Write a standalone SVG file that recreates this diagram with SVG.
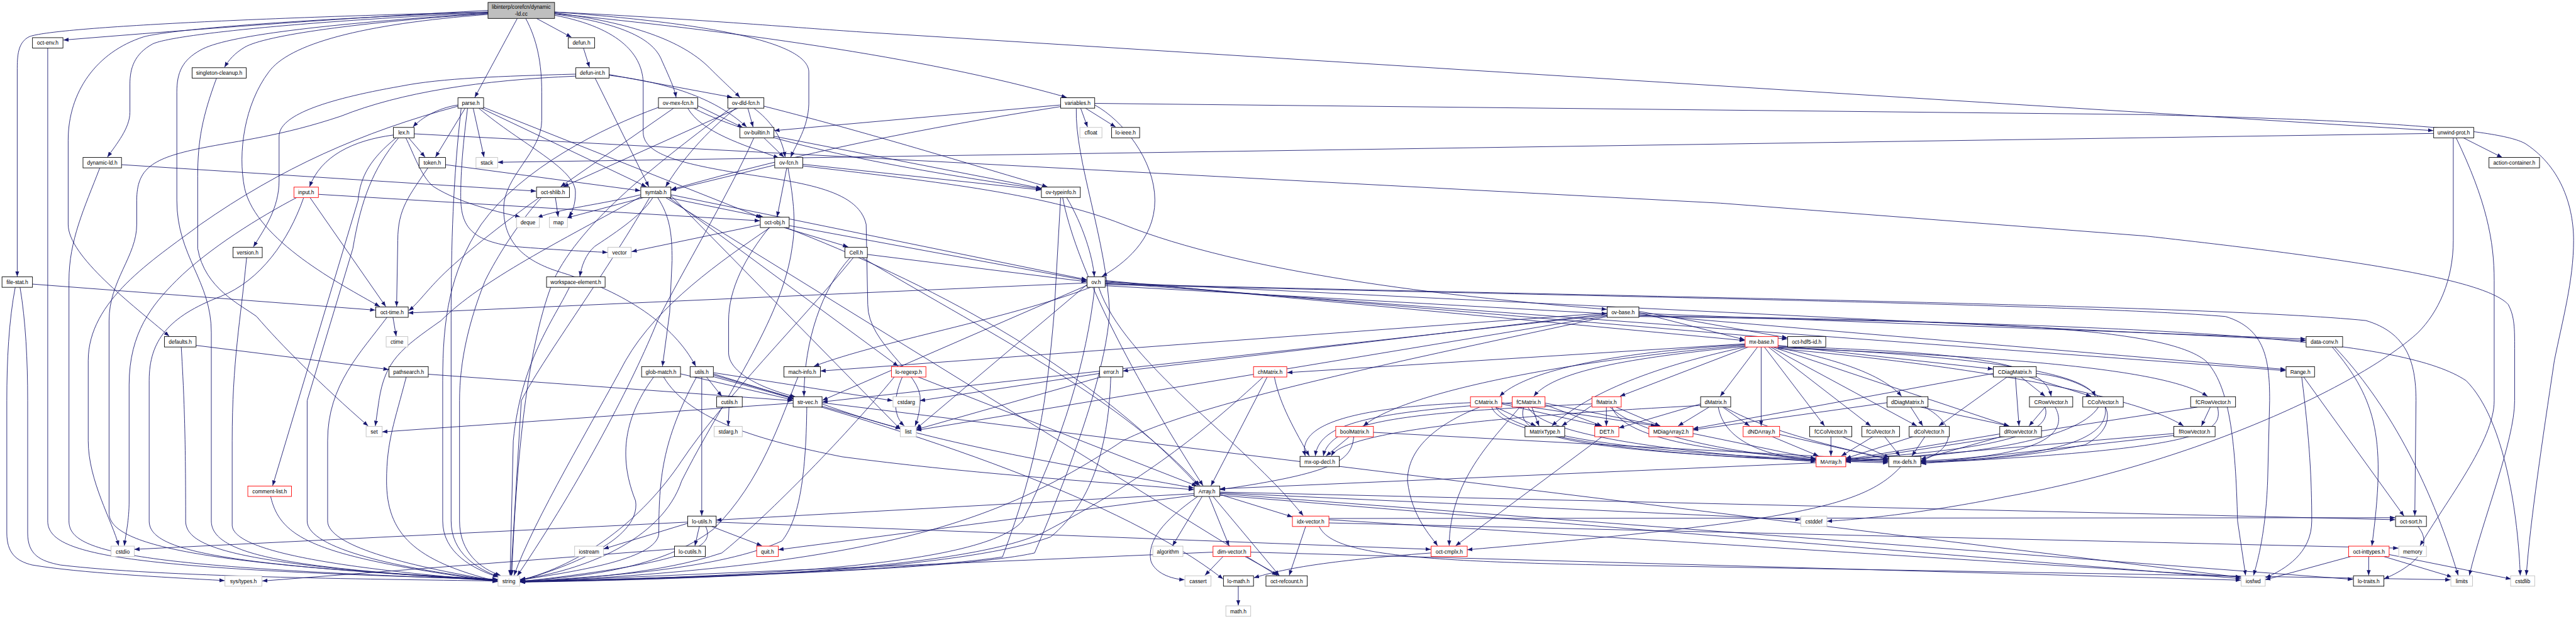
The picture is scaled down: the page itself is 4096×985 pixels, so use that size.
<svg xmlns="http://www.w3.org/2000/svg" width="4096" height="985" viewBox="0 0 4096 985">
<defs>
<style>
.e{fill:none;stroke:#191970;stroke-width:1.4;marker-end:url(#a)}
.n rect{fill:#fff;stroke:#000;stroke-width:1.4}
.r rect{fill:#fff;stroke:#ff0000;stroke-width:1.4}
.g rect{fill:#fff;stroke:#bfbfbf;stroke-width:1.4}
text{font-family:"Liberation Sans",Arial,Helvetica,sans-serif;font-size:13.3px;text-anchor:middle;fill:#000}
</style>
<marker id="a" viewBox="0 0 10 10" refX="10" refY="5" markerWidth="13" markerHeight="13" markerUnits="userSpaceOnUse" orient="auto"><path d="M0,1.2 L10,5 L0,8.8 Z" fill="#191970"/></marker>
</defs>
<rect width="4096" height="985" fill="#fff"/>
<g transform="scale(0.63761)">
<g id="edges">
<path class="e" d="M1217,26 C900,42 500,72 158,100"/>
<path class="e" d="M1217,30 C600,45 120,70 72,92 C48,105 43,130 43,170 L43,690"/>
<path class="e" d="M1217,34 C900,55 660,88 610,118 C585,133 570,150 560,168"/>
<path class="e" d="M1217,32 C800,50 430,85 380,110 C335,135 324,170 324,210 L324,280 C324,320 290,360 268,392"/>
<path class="e" d="M1217,30 C700,50 420,75 358,92 C240,130 170,230 170,350 L170,560 C170,640 330,760 422,839"/>
<path class="e" d="M1217,36 C900,60 720,110 670,180 C610,260 592,380 610,470 C640,600 850,710 947,765"/>
<path class="e" d="M1217,33 C800,60 560,90 500,125 C455,150 441,180 441,230 L441,500 C441,640 527,700 527,830 L527,1300 C527,1380 700,1420 1241,1447"/>
<path class="e" d="M1338,46 L1425,93"/>
<path class="e" d="M1290,46 L1184,243"/>
<path class="e" d="M1311,46 C1340,100 1351,160 1351,230 L1351,300 C1351,380 1256,440 1256,520 C1256,600 1300,650 1400,680 C1560,730 1680,810 1735,914"/>
<path class="e" d="M1383,38 C1550,70 1604,140 1604,210 L1604,330 C1604,380 1680,405 1830,430 C1990,455 2140,470 2160,560 L2164,760 C2164,860 2300,930 2295,1000 C2293,1030 2288,1048 2282,1063"/>
<path class="e" d="M1383,35 C1560,60 1630,100 1650,150 C1670,195 1682,220 1686,243"/>
<path class="e" d="M1383,32 C1600,60 1710,110 1770,170 C1810,210 1835,232 1845,243"/>
<path class="e" d="M1383,30 C1800,60 2017,110 2017,180 L2017,260 C2015,320 1985,360 1972,392"/>
<path class="e" d="M1383,34 C1800,75 2300,140 2660,243"/>
<path class="e" d="M1383,30 C1700,45 2000,70 2150,80 L6068,326"/>
<path class="e" d="M1455,120 L1470,168"/>
<path class="e" d="M1436,185 C1250,190 1100,195 1000,215 C800,250 696,290 696,340 L696,450 C696,520 660,570 632,616"/>
<path class="e" d="M1436,190 C1200,200 1000,230 850,290 C700,340 600,350 500,370 C380,395 341,420 341,500 L341,560 C341,640 272,700 272,800 L272,1280 C272,1360 500,1410 1241,1446"/>
<path class="e" d="M1519,188 C1700,210 1800,260 1862,317"/>
<path class="e" d="M1519,186 L1826,243"/>
<path class="e" d="M1484,195 L1618,466"/>
<path class="e" d="M1142,262 C1090,270 1050,295 1030,317"/>
<path class="e" d="M1160,270 L1086,392"/>
<path class="e" d="M1180,270 L1207,392"/>
<path class="e" d="M1166,270 C1152,380 1149,440 1149,490 C1149,560 1170,600 1280,615 C1400,625 1480,628 1515,630"/>
<path class="e" d="M1194,270 C1300,360 1435,420 1435,480 C1435,510 1428,528 1418,541"/>
<path class="e" d="M1200,270 L1612,466"/>
<path class="e" d="M1206,268 L1898,543"/>
<path class="e" d="M1142,265 C900,330 700,420 500,560 C380,650 220,750 220,900 L220,1100 C220,1200 280,1300 296,1362"/>
<path class="e" d="M1150,270 C1130,450 1125,600 1125,800 L1125,1300 C1125,1380 1190,1420 1243,1439"/>
<path class="e" d="M1019,344 L1060,392"/>
<path class="e" d="M981,337 C880,350 800,390 772,466"/>
<path class="e" d="M988,344 C925,395 898,440 893,500 L680,1212"/>
<path class="e" d="M1012,344 C1030,380 1050,440 1080,465 C1150,510 1250,530 1298,542"/>
<path class="e" d="M994,344 C930,420 900,500 880,620 L766,1000 L766,1300 C766,1370 1000,1420 1241,1449"/>
<path class="e" d="M1033,334 L4290,507 L5350,589 C5900,650 6200,700 6255,760 C6271,790 6271,820 6271,870 L6271,1000 C6271,1100 6190,1300 6158,1436"/>
<path class="e" d="M1067,419 C1020,490 992,520 992,600 L989,765"/>
<path class="e" d="M1111,411 L1597,476"/>
<path class="e" d="M773,493 L962,765"/>
<path class="e" d="M794,485 L1895,551"/>
<path class="e" d="M740,493 C650,540 520,620 440,700 C380,760 322,830 322,960 L322,1250 C322,1300 314,1330 310,1362"/>
<path class="e" d="M757,494 C720,600 650,700 550,740 C420,790 372,850 372,950 L372,1300 C372,1370 520,1410 1241,1447"/>
<path class="e" d="M615,643 C600,800 579,900 579,1100 L579,1310 C579,1370 800,1415 1241,1450"/>
<path class="e" d="M675,1239 C700,1350 800,1390 1241,1452"/>
<path class="e" d="M119,120 L119,1300 C119,1385 300,1420 1241,1446"/>
<path class="e" d="M81,709 L936,774"/>
<path class="e" d="M38,717 C22,800 17,900 17,1000 L17,1330 C17,1380 40,1400 80,1410 C200,1430 400,1440 560,1449"/>
<path class="e" d="M50,717 C64,800 69,900 69,1000 L69,1330 C69,1385 100,1400 150,1410 C400,1440 900,1445 1241,1450"/>
<path class="e" d="M540,195 C505,290 493,350 493,440 L493,620 C510,720 600,760 640,790 C700,860 800,960 918,1063"/>
<path class="e" d="M303,411 L1337,477"/>
<path class="e" d="M249,419 C210,520 172,600 172,700 L172,1300 C172,1375 300,1415 1241,1447"/>
<path class="e" d="M489,862 L969,922"/>
<path class="e" d="M452,866 C460,1000 463,1100 463,1300 C463,1370 600,1410 1241,1450"/>
<path class="e" d="M980,792 L988,839"/>
<path class="e" d="M965,792 C900,880 817,960 817,1100 L817,1300 C817,1360 1000,1410 1241,1450"/>
<path class="e" d="M1013,941 C985,1050 964,1100 964,1200 C964,1330 1030,1400 1241,1451"/>
<path class="e" d="M1068,934 L1977,1000"/>
<path class="e" d="M1598,486 C1500,510 1400,520 1340,543"/>
<path class="e" d="M1605,493 L1413,544"/>
<path class="e" d="M1628,493 C1600,540 1520,590 1483,615 C1460,635 1450,665 1446,690"/>
<path class="e" d="M1665,493 L1904,542"/>
<path class="e" d="M1640,493 C1670,540 1676,580 1676,650 L1670,780 L1652,914"/>
<path class="e" d="M1668,493 L2240,914"/>
<path class="e" d="M1673,488 L2246,1072"/>
<path class="e" d="M1600,490 C1400,600 1200,700 1100,800 C1000,870 960,900 945,1000 L936,1063"/>
<path class="e" d="M1620,493 C1500,700 1350,900 1300,1000 L1274,1436"/>
<path class="e" d="M1673,486 L2710,698"/>
<path class="e" d="M1660,493 L3185,1436"/>
<path class="e" d="M1420,717 C1380,800 1300,900 1280,1100 L1272,1436"/>
<path class="e" d="M1932,412 L1673,475"/>
<path class="e" d="M1962,419 L1938,541"/>
<path class="e" d="M2002,410 L2596,474"/>
<path class="e" d="M2002,414 C2300,450 2600,480 2800,560 C3100,680 3600,740 4007,772"/>
<path class="e" d="M1965,419 C1980,500 1985,560 1975,620 C1950,800 1800,1000 1700,1200 C1650,1350 1450,1425 1297,1446"/>
<path class="e" d="M1905,344 L1955,392"/>
<path class="e" d="M1930,340 L2597,470"/>
<path class="e" d="M1880,344 C1820,480 1700,680 1640,800 C1580,950 1450,1200 1290,1437"/>
<path class="e" d="M1865,270 L1878,317"/>
<path class="e" d="M1880,270 C1920,300 1950,340 1958,392"/>
<path class="e" d="M1840,270 L1405,466"/>
<path class="e" d="M1835,270 C1760,330 1700,400 1660,466"/>
<path class="e" d="M1905,265 C2200,340 2450,420 2612,466"/>
<path class="e" d="M1822,270 C1650,400 1450,550 1380,700 C1320,850 1290,1100 1276,1436"/>
<path class="e" d="M1740,264 L1852,318"/>
<path class="e" d="M1715,270 C1750,330 1850,360 1942,394"/>
<path class="e" d="M1680,270 L1398,466"/>
<path class="e" d="M1730,270 C1900,360 2300,430 2600,472"/>
<path class="e" d="M1642,268 C1500,320 1300,420 1200,560 C1120,680 1104,800 1104,950 L1104,1300 C1104,1380 1180,1420 1242,1440"/>
<path class="e" d="M1385,493 L1392,541"/>
<path class="e" d="M1345,493 C1250,560 1150,640 1100,690 C1060,730 1040,760 1019,775"/>
<path class="e" d="M1350,493 C1290,560 1240,640 1210,700 C1170,800 1146,900 1146,1000 L1146,1300 C1146,1380 1200,1420 1248,1436"/>
<path class="e" d="M1896,561 L1575,628"/>
<path class="e" d="M1955,568 L2115,616"/>
<path class="e" d="M1918,568 C1860,640 1817,720 1817,800 L1817,880 C1817,930 1900,970 1983,990"/>
<path class="e" d="M1968,563 L2710,700"/>
<path class="e" d="M1960,568 C2300,700 2700,900 2988,1212"/>
<path class="e" d="M1920,568 C1800,650 1640,760 1560,900 C1480,1050 1330,1300 1282,1436"/>
<path class="e" d="M2163,635 L2710,703"/>
<path class="e" d="M2150,643 C2500,850 2800,1000 2992,1212"/>
<path class="e" d="M2120,643 C2050,720 2005,850 2005,989"/>
<path class="e" d="M2128,643 C2000,800 1800,1000 1700,1150 C1600,1300 1450,1410 1297,1448"/>
<path class="e" d="M2660,493 C2700,560 2725,640 2729,690"/>
<path class="e" d="M2650,493 C2680,650 2800,900 3000,1212"/>
<path class="e" d="M2645,493 L2629,780 C2610,1000 2590,1150 2500,1390 C2300,1420 1800,1440 1297,1451"/>
<path class="e" d="M2695,270 L2712,317"/>
<path class="e" d="M2707,270 L2782,317"/>
<path class="e" d="M2730,262 C2800,300 2880,400 2880,500 C2880,600 2800,660 2748,690"/>
<path class="e" d="M2645,262 L1931,326"/>
<path class="e" d="M2645,266 C2300,320 2000,380 1674,473"/>
<path class="e" d="M2684,270 C2680,400 2760,600 2767,780 C2760,900 2700,1100 2580,1380 C2400,1420 1800,1440 1297,1452"/>
<path class="e" d="M2730,258 L5350,286 C5900,300 6240,320 6300,360 C6390,420 6418,520 6418,600 C6418,700 6390,800 6370,900 C6340,1100 6310,1300 6300,1436"/>
<path class="e" d="M2756,700 L4351,850"/>
<path class="e" d="M2756,702 L4457,846"/>
<path class="e" d="M2756,704 L5750,850"/>
<path class="e" d="M2756,706 L5700,925"/>
<path class="e" d="M2756,708 C4000,740 5500,760 5900,800 C6000,830 6025,900 6025,1000 L6022,1287"/>
<path class="e" d="M2756,710 C4000,740 5200,760 5550,790 C5650,820 5660,900 5660,1000 L5655,1200 C5650,1330 5630,1400 5620,1436"/>
<path class="e" d="M2720,717 C2500,800 2200,850 2030,914"/>
<path class="e" d="M2711,712 L2051,999"/>
<path class="e" d="M2711,706 L1018,781"/>
<path class="e" d="M2711,710 L2285,1070"/>
<path class="e" d="M2730,717 C2710,900 2650,1100 2550,1300 C2450,1420 1800,1440 1297,1452"/>
<path class="e" d="M2756,713 L4007,783"/>
<path class="e" d="M2740,717 C2800,900 3100,1100 3250,1287"/>
<path class="e" d="M4087,780 L4351,848"/>
<path class="e" d="M4087,777 L4457,843"/>
<path class="e" d="M4008,783 L2800,926"/>
<path class="e" d="M4008,781 L2046,926"/>
<path class="e" d="M4008,786 L2051,1003"/>
<path class="e" d="M4087,782 L5750,846"/>
<path class="e" d="M4087,785 L5700,922"/>
<path class="e" d="M4087,788 C5000,800 5400,820 5500,900 C5560,960 5575,1100 5580,1300 L5600,1436"/>
<path class="e" d="M4008,790 C3500,900 3000,1000 2800,1100 C2500,1300 2200,1410 1297,1453"/>
<path class="e" d="M4008,788 L2285,1074"/>
<path class="e" d="M4087,790 C5500,810 6000,850 6150,950 C6250,1050 6280,1300 6285,1436"/>
<path class="e" d="M4352,858 L3210,930"/>
<path class="e" d="M4352,862 C3900,900 3500,980 3400,1063"/>
<path class="e" d="M4352,860 C4000,880 3800,930 3740,989"/>
<path class="e" d="M4355,864 C4100,890 3880,920 3825,989"/>
<path class="e" d="M4360,866 L4040,989"/>
<path class="e" d="M4383,866 L4290,989"/>
<path class="e" d="M4352,866 C4100,920 3950,990 3870,1063"/>
<path class="e" d="M4392,866 L4392,1063"/>
<path class="e" d="M4400,866 L4550,1063"/>
<path class="e" d="M4410,866 L4665,1063"/>
<path class="e" d="M4415,866 L4780,1063"/>
<path class="e" d="M4420,866 L5010,1063"/>
<path class="e" d="M4425,866 C4600,900 4700,940 4742,989"/>
<path class="e" d="M4434,862 L4970,921"/>
<path class="e" d="M4434,864 C4900,880 5100,900 5115,989"/>
<path class="e" d="M4434,866 C4950,890 5200,930 5225,989"/>
<path class="e" d="M4434,868 C5000,890 5400,920 5505,989"/>
<path class="e" d="M4434,870 C5000,920 5350,1000 5445,1063"/>
<path class="e" d="M3730,1016 L3830,1063"/>
<path class="e" d="M3745,1008 L3990,1063"/>
<path class="e" d="M3745,1005 L4130,1063"/>
<path class="e" d="M3667,1005 C3300,1020 3240,1080 3255,1138"/>
<path class="e" d="M3690,1016 C3580,1060 3510,1120 3510,1200 C3520,1290 3570,1340 3585,1362"/>
<path class="e" d="M3730,1016 C3780,1100 4200,1140 4709,1152"/>
<path class="e" d="M3720,1016 C3750,1100 4200,1140 4528,1149"/>
<path class="e" d="M3820,1016 L3838,1063"/>
<path class="e" d="M3853,1010 L3995,1063"/>
<path class="e" d="M3853,1006 L4140,1063"/>
<path class="e" d="M3771,1005 C3400,1030 3290,1060 3280,1138"/>
<path class="e" d="M3790,1016 C3720,1100 3615,1200 3614,1362"/>
<path class="e" d="M3800,1016 C3780,1080 3850,1130 4709,1155"/>
<path class="e" d="M3810,1016 C3850,1090 4200,1130 4528,1152"/>
<path class="e" d="M3970,1012 L3895,1063"/>
<path class="e" d="M4006,1016 L4006,1063"/>
<path class="e" d="M4030,1016 L4140,1063"/>
<path class="e" d="M3970,1008 C3500,1030 3320,1050 3300,1138"/>
<path class="e" d="M4020,1016 C4050,1100 4300,1140 4709,1150"/>
<path class="e" d="M4015,1016 C4080,1080 4300,1130 4528,1147"/>
<path class="e" d="M4241,1008 L4037,1068"/>
<path class="e" d="M4262,1016 L4185,1063"/>
<path class="e" d="M4296,1016 L4363,1063"/>
<path class="e" d="M4241,1012 C3700,1040 3350,1080 3320,1138"/>
<path class="e" d="M4285,1016 C4300,1100 4400,1140 4528,1148"/>
<path class="e" d="M4300,1016 C4380,1060 4500,1100 4709,1145"/>
<path class="e" d="M3365,1090 L3307,1138"/>
<path class="e" d="M3425,1079 L4709,1148"/>
<path class="e" d="M3376,1090 C3370,1150 3330,1180 3042,1222"/>
<path class="e" d="M3160,941 L3020,1212"/>
<path class="e" d="M3150,941 C3000,1080 2850,1200 2600,1330 C2400,1420 1800,1445 1297,1452"/>
<path class="e" d="M3178,941 C3190,1000 3215,1050 3265,1138"/>
<path class="e" d="M3995,1090 L3630,1362"/>
<path class="e" d="M4222,1082 L4528,1145"/>
<path class="e" d="M4765,1016 L4795,1063"/>
<path class="e" d="M4790,1016 L5010,1063"/>
<path class="e" d="M4706,1005 L4222,1073"/>
<path class="e" d="M4800,1016 C4880,1060 4880,1120 4790,1150"/>
<path class="e" d="M5040,941 L5100,989"/>
<path class="e" d="M5060,941 L5215,989"/>
<path class="e" d="M5005,941 L4835,1063"/>
<path class="e" d="M5026,941 L5035,1063"/>
<path class="e" d="M4971,932 L4222,1070"/>
<path class="e" d="M5078,932 C5250,950 5310,1050 5200,1110 C5000,1150 4850,1152 4790,1152"/>
<path class="e" d="M5100,1016 L5060,1063"/>
<path class="e" d="M5100,1016 C5120,1080 5000,1120 4603,1146"/>
<path class="e" d="M5125,1016 C5160,1080 5100,1140 4790,1150"/>
<path class="e" d="M5233,1016 C5180,1100 4900,1140 4603,1149"/>
<path class="e" d="M5250,1016 C5260,1090 5150,1140 4790,1153"/>
<path class="e" d="M5512,1016 L5490,1063"/>
<path class="e" d="M5480,1016 L4603,1150"/>
<path class="e" d="M5530,1016 C5545,1080 5500,1120 4790,1156"/>
<path class="e" d="M5421,1082 L4603,1153"/>
<path class="e" d="M5421,1087 L4790,1157"/>
<path class="e" d="M4420,1090 L4535,1138"/>
<path class="e" d="M4437,1084 L4709,1146"/>
<path class="e" d="M4566,1090 L4566,1138"/>
<path class="e" d="M4595,1090 L4712,1142"/>
<path class="e" d="M4670,1090 L4592,1138"/>
<path class="e" d="M4700,1090 L4738,1138"/>
<path class="e" d="M4770,1090 L4603,1144"/>
<path class="e" d="M4800,1090 L4768,1138"/>
<path class="e" d="M4987,1083 L4603,1147"/>
<path class="e" d="M4990,1090 L4790,1146"/>
<path class="e" d="M4529,1155 L3042,1220"/>
<path class="e" d="M4740,1165 C4650,1260 4500,1300 3659,1372"/>
<path class="e" d="M2987,1239 C2900,1300 2860,1350 2870,1400 C2880,1430 2920,1445 2954,1447"/>
<path class="e" d="M2998,1239 L2924,1362"/>
<path class="e" d="M3015,1239 L3065,1362"/>
<path class="e" d="M3025,1239 L3190,1436"/>
<path class="e" d="M3042,1234 L3223,1290"/>
<path class="e" d="M2978,1232 L1786,1298"/>
<path class="e" d="M2978,1236 L1941,1372"/>
<path class="e" d="M3042,1230 L4490,1297"/>
<path class="e" d="M3042,1228 L5973,1297"/>
<path class="e" d="M3042,1232 L5868,1446"/>
<path class="e" d="M3042,1236 L5588,1444"/>
<path class="e" d="M3050,1389 L3005,1436"/>
<path class="e" d="M3105,1389 L3190,1436"/>
<path class="e" d="M3025,1378 L1297,1452"/>
<path class="e" d="M3119,1378 L5588,1448"/>
<path class="e" d="M3088,1463 L3088,1511"/>
<path class="e" d="M3569,1380 C3300,1400 3200,1420 3127,1442"/>
<path class="e" d="M1779,940 C2300,1080 2800,1250 3050,1445"/>
<path class="e" d="M3256,1314 L3215,1436"/>
<path class="e" d="M3314,1297 L5588,1440"/>
<path class="e" d="M3314,1294 L5973,1292"/>
<path class="e" d="M3290,1314 C3320,1380 3500,1400 4000,1410 L6111,1447"/>
<path class="e" d="M3314,1305 L5981,1368"/>
<path class="e" d="M6030,1314 C6060,1350 6050,1400 5945,1445"/>
<path class="e" d="M5862,1389 L5649,1447"/>
<path class="e" d="M5907,1389 L5907,1436"/>
<path class="e" d="M5945,1389 L6115,1440"/>
<path class="e" d="M5958,1384 L6262,1445"/>
<path class="e" d="M5816,866 C5930,1000 5950,1100 5915,1362"/>
<path class="e" d="M5822,866 C5950,1000 6060,1200 6130,1436"/>
<path class="e" d="M5740,941 C5760,1100 5765,1200 5765,1300 C5765,1380 5700,1420 5650,1442"/>
<path class="e" d="M5745,941 L5995,1288"/>
<path class="e" d="M6143,344 L6240,393"/>
<path class="e" d="M6069,333 L1241,405"/>
<path class="e" d="M6118,344 L6118,600 C6118,700 6080,780 6030,830 C5900,950 5500,1150 5000,1240 C4800,1280 4650,1295 4556,1301"/>
<path class="e" d="M6125,344 C6200,500 6220,600 6220,700 L6220,1000 C6220,1100 6100,1250 6035,1362"/>
<path class="e" d="M1715,1306 L1505,1370"/>
<path class="e" d="M1744,1314 L1733,1362"/>
<path class="e" d="M1775,1314 L1900,1362"/>
<path class="e" d="M1760,1314 C1780,1360 1750,1400 1297,1452"/>
<path class="e" d="M1715,1303 L335,1371"/>
<path class="e" d="M1786,1303 L3568,1371"/>
<path class="e" d="M1682,1370 L654,1450"/>
<path class="e" d="M1750,941 L1750,1287"/>
<path class="e" d="M1762,941 L1800,989"/>
<path class="e" d="M1779,933 L1980,995"/>
<path class="e" d="M1737,941 C1650,1100 1643,1200 1643,1330 C1643,1400 1400,1430 1297,1448"/>
<path class="e" d="M1779,930 L2226,1000"/>
<path class="e" d="M1779,936 L2246,1070"/>
<path class="e" d="M1818,1016 L1816,1063"/>
<path class="e" d="M1697,933 L1977,998"/>
<path class="e" d="M1630,941 C1550,1050 1545,1150 1585,1250 C1600,1350 1400,1420 1297,1449"/>
<path class="e" d="M1655,941 C1720,1050 1900,1100 2100,1140 C2400,1180 2700,1200 2977,1222"/>
<path class="e" d="M1990,941 C1945,1050 1900,1200 1780,1320 C1650,1420 1450,1440 1297,1450"/>
<path class="e" d="M2012,1016 C2010,1200 1990,1300 1950,1350 C1800,1420 1500,1440 1297,1451"/>
<path class="e" d="M1978,1006 L953,1078"/>
<path class="e" d="M2050,1008 C2300,1100 2600,1150 2977,1218"/>
<path class="e" d="M2050,1005 L5588,1441"/>
<path class="e" d="M2250,941 C2225,1000 2230,1040 2255,1063"/>
<path class="e" d="M2290,941 L2985,1213"/>
<path class="e" d="M2230,941 C2100,1100 1900,1300 1800,1380 C1650,1430 1450,1445 1297,1452"/>
<path class="e" d="M2742,932 L2294,1000"/>
<path class="e" d="M2770,941 C2765,1100 2730,1250 2620,1340 C2400,1420 1800,1445 1297,1453"/>
<path class="e" d="M2745,941 L2285,1072"/>
</g>
<g id="n_root"><rect x="1217" y="6" width="166" height="40" fill="#bfbfbf" stroke="#000" stroke-width="1.4"/><text x="1300" y="22">libinterp/corefcn/dynamic</text><text x="1300" y="39">-ld.cc</text></g>
<g id="n_oct-env" class="n"><rect x="81" y="94" width="76" height="26"/><text x="119" y="112">oct-env.h</text></g>
<g id="n_defun" class="n"><rect x="1417" y="94" width="66" height="26"/><text x="1450" y="112">defun.h</text></g>
<g id="n_singleton-cleanup" class="n"><rect x="479" y="169" width="135" height="26"/><text x="546.5" y="187">singleton-cleanup.h</text></g>
<g id="n_defun-int" class="n"><rect x="1436" y="169" width="83" height="26"/><text x="1477.5" y="187">defun-int.h</text></g>
<g id="n_parse" class="n"><rect x="1142" y="244" width="64" height="26"/><text x="1174" y="262">parse.h</text></g>
<g id="n_ov-mex-fcn" class="n"><rect x="1642" y="244" width="98" height="26"/><text x="1691" y="262">ov-mex-fcn.h</text></g>
<g id="n_ov-dld-fcn" class="n"><rect x="1815" y="244" width="90" height="26"/><text x="1860" y="262">ov-dld-fcn.h</text></g>
<g id="n_variables" class="n"><rect x="2645" y="244" width="85" height="26"/><text x="2687.5" y="262">variables.h</text></g>
<g id="n_lex" class="n"><rect x="981" y="318" width="52" height="26"/><text x="1007" y="336">lex.h</text></g>
<g id="n_ov-builtin" class="n"><rect x="1845" y="318" width="85" height="26"/><text x="1887.5" y="336">ov-builtin.h</text></g>
<g id="n_cfloat" class="g"><rect x="2693" y="318" width="55" height="26"/><text x="2720.5" y="336">cfloat</text></g>
<g id="n_lo-ieee" class="n"><rect x="2772" y="318" width="70" height="26"/><text x="2807" y="336">lo-ieee.h</text></g>
<g id="n_unwind-prot" class="n"><rect x="6069" y="318" width="100" height="26"/><text x="6119" y="336">unwind-prot.h</text></g>
<g id="n_dynamic-ld" class="n"><rect x="207" y="393" width="96" height="26"/><text x="255" y="411">dynamic-ld.h</text></g>
<g id="n_token" class="n"><rect x="1045" y="393" width="66" height="26"/><text x="1078" y="411">token.h</text></g>
<g id="n_stack" class="g"><rect x="1187" y="393" width="54" height="26"/><text x="1214" y="411">stack</text></g>
<g id="n_ov-fcn" class="n"><rect x="1932" y="393" width="70" height="26"/><text x="1967" y="411">ov-fcn.h</text></g>
<g id="n_action-container" class="n"><rect x="6207" y="393" width="126" height="26"/><text x="6270" y="411">action-container.h</text></g>
<g id="n_input" class="r"><rect x="733" y="467" width="61" height="26"/><text x="763.5" y="485">input.h</text></g>
<g id="n_oct-shlib" class="n"><rect x="1338" y="467" width="82" height="26"/><text x="1379" y="485">oct-shlib.h</text></g>
<g id="n_symtab" class="n"><rect x="1598" y="467" width="75" height="26"/><text x="1635.5" y="485">symtab.h</text></g>
<g id="n_ov-typeinfo" class="n"><rect x="2597" y="467" width="97" height="26"/><text x="2645.5" y="485">ov-typeinfo.h</text></g>
<g id="n_deque" class="g"><rect x="1288" y="542" width="57" height="26"/><text x="1316.5" y="560">deque</text></g>
<g id="n_map" class="g"><rect x="1370" y="542" width="45" height="26"/><text x="1392.5" y="560">map</text></g>
<g id="n_oct-obj" class="n"><rect x="1896" y="542" width="72" height="26"/><text x="1932" y="560">oct-obj.h</text></g>
<g id="n_version" class="n"><rect x="581" y="617" width="73" height="26"/><text x="617.5" y="635">version.h</text></g>
<g id="n_vector" class="g"><rect x="1516" y="617" width="58" height="26"/><text x="1545" y="635">vector</text></g>
<g id="n_Cell" class="n"><rect x="2107" y="617" width="56" height="26"/><text x="2135" y="635">Cell.h</text></g>
<g id="n_file-stat" class="n"><rect x="5" y="691" width="76" height="26"/><text x="43" y="709">file-stat.h</text></g>
<g id="n_workspace-element" class="n"><rect x="1363" y="691" width="146" height="26"/><text x="1436" y="709">workspace-element.h</text></g>
<g id="n_ov" class="n"><rect x="2711" y="691" width="45" height="26"/><text x="2733.5" y="709">ov.h</text></g>
<g id="n_oct-time" class="n"><rect x="937" y="766" width="81" height="26"/><text x="977.5" y="784">oct-time.h</text></g>
<g id="n_ov-base" class="n"><rect x="4008" y="766" width="79" height="26"/><text x="4047.5" y="784">ov-base.h</text></g>
<g id="n_defaults" class="n"><rect x="410" y="840" width="79" height="26"/><text x="449.5" y="858">defaults.h</text></g>
<g id="n_ctime" class="g"><rect x="963" y="840" width="54" height="26"/><text x="990" y="858">ctime</text></g>
<g id="n_mx-base" class="r"><rect x="4352" y="840" width="82" height="26"/><text x="4393" y="858">mx-base.h</text></g>
<g id="n_oct-hdf5-id" class="n"><rect x="4458" y="840" width="95" height="26"/><text x="4505.5" y="858">oct-hdf5-id.h</text></g>
<g id="n_data-conv" class="n"><rect x="5751" y="840" width="91" height="26"/><text x="5796.5" y="858">data-conv.h</text></g>
<g id="n_pathsearch" class="n"><rect x="970" y="915" width="98" height="26"/><text x="1019" y="933">pathsearch.h</text></g>
<g id="n_glob-match" class="n"><rect x="1600" y="915" width="97" height="26"/><text x="1648.5" y="933">glob-match.h</text></g>
<g id="n_utils" class="n"><rect x="1721" y="915" width="58" height="26"/><text x="1750" y="933">utils.h</text></g>
<g id="n_mach-info" class="n"><rect x="1955" y="915" width="91" height="26"/><text x="2000.5" y="933">mach-info.h</text></g>
<g id="n_lo-regexp" class="r"><rect x="2223" y="915" width="86" height="26"/><text x="2266" y="933">lo-regexp.h</text></g>
<g id="n_error" class="n"><rect x="2742" y="915" width="58" height="26"/><text x="2771" y="933">error.h</text></g>
<g id="n_chMatrix" class="r"><rect x="3126" y="915" width="83" height="26"/><text x="3167.5" y="933">chMatrix.h</text></g>
<g id="n_CDiagMatrix" class="n"><rect x="4971" y="915" width="107" height="26"/><text x="5024.5" y="933">CDiagMatrix.h</text></g>
<g id="n_Range" class="n"><rect x="5701" y="915" width="71" height="26"/><text x="5736.5" y="933">Range.h</text></g>
<g id="n_cutils" class="n"><rect x="1787" y="990" width="64" height="26"/><text x="1819" y="1008">cutils.h</text></g>
<g id="n_str-vec" class="n"><rect x="1978" y="990" width="72" height="26"/><text x="2014" y="1008">str-vec.h</text></g>
<g id="n_cstdarg" class="g"><rect x="2227" y="990" width="66" height="26"/><text x="2260" y="1008">cstdarg</text></g>
<g id="n_CMatrix" class="r"><rect x="3667" y="990" width="78" height="26"/><text x="3706" y="1008">CMatrix.h</text></g>
<g id="n_fCMatrix" class="r"><rect x="3771" y="990" width="82" height="26"/><text x="3812" y="1008">fCMatrix.h</text></g>
<g id="n_fMatrix" class="r"><rect x="3970" y="990" width="73" height="26"/><text x="4006.5" y="1008">fMatrix.h</text></g>
<g id="n_dMatrix" class="n"><rect x="4241" y="990" width="75" height="26"/><text x="4278.5" y="1008">dMatrix.h</text></g>
<g id="n_dDiagMatrix" class="n"><rect x="4706" y="990" width="102" height="26"/><text x="4757" y="1008">dDiagMatrix.h</text></g>
<g id="n_CRowVector" class="n"><rect x="5061" y="990" width="108" height="26"/><text x="5115" y="1008">CRowVector.h</text></g>
<g id="n_CColVector" class="n"><rect x="5194" y="990" width="101" height="26"/><text x="5244.5" y="1008">CColVector.h</text></g>
<g id="n_fCRowVector" class="n"><rect x="5463" y="990" width="112" height="26"/><text x="5519" y="1008">fCRowVector.h</text></g>
<g id="n_set" class="g"><rect x="913" y="1064" width="40" height="26"/><text x="933" y="1082">set</text></g>
<g id="n_stdarg" class="g"><rect x="1781" y="1064" width="70" height="26"/><text x="1816" y="1082">stdarg.h</text></g>
<g id="n_list" class="g"><rect x="2245" y="1064" width="40" height="26"/><text x="2265" y="1082">list</text></g>
<g id="n_boolMatrix" class="r"><rect x="3331" y="1064" width="94" height="26"/><text x="3378" y="1082">boolMatrix.h</text></g>
<g id="n_MatrixType" class="n"><rect x="3803" y="1064" width="99" height="26"/><text x="3852.5" y="1082">MatrixType.h</text></g>
<g id="n_DET" class="r"><rect x="3977" y="1064" width="60" height="26"/><text x="4007" y="1082">DET.h</text></g>
<g id="n_MDiagArray2" class="r"><rect x="4112" y="1064" width="110" height="26"/><text x="4167" y="1082">MDiagArray2.h</text></g>
<g id="n_dNDArray" class="r"><rect x="4347" y="1064" width="91" height="26"/><text x="4392.5" y="1082">dNDArray.h</text></g>
<g id="n_fCColVector" class="n"><rect x="4513" y="1064" width="105" height="26"/><text x="4565.5" y="1082">fCColVector.h</text></g>
<g id="n_fColVector" class="n"><rect x="4643" y="1064" width="94" height="26"/><text x="4690" y="1082">fColVector.h</text></g>
<g id="n_dColVector" class="n"><rect x="4761" y="1064" width="100" height="26"/><text x="4811" y="1082">dColVector.h</text></g>
<g id="n_dRowVector" class="n"><rect x="4987" y="1064" width="104" height="26"/><text x="5039" y="1082">dRowVector.h</text></g>
<g id="n_fRowVector" class="n"><rect x="5421" y="1064" width="103" height="26"/><text x="5472.5" y="1082">fRowVector.h</text></g>
<g id="n_mx-op-decl" class="n"><rect x="3242" y="1139" width="98" height="26"/><text x="3291" y="1157">mx-op-decl.h</text></g>
<g id="n_MArray" class="r"><rect x="4529" y="1139" width="74" height="26"/><text x="4566" y="1157">MArray.h</text></g>
<g id="n_mx-defs" class="n"><rect x="4710" y="1139" width="80" height="26"/><text x="4750" y="1157">mx-defs.h</text></g>
<g id="n_comment-list" class="r"><rect x="618" y="1213" width="109" height="26"/><text x="672.5" y="1231">comment-list.h</text></g>
<g id="n_Array" class="n"><rect x="2978" y="1213" width="64" height="26"/><text x="3010" y="1231">Array.h</text></g>
<g id="n_lo-utils" class="n"><rect x="1715" y="1288" width="71" height="26"/><text x="1750.5" y="1306">lo-utils.h</text></g>
<g id="n_idx-vector" class="r"><rect x="3223" y="1288" width="91" height="26"/><text x="3268.5" y="1306">idx-vector.h</text></g>
<g id="n_cstddef" class="g"><rect x="4491" y="1288" width="65" height="26"/><text x="4523.5" y="1306">cstddef</text></g>
<g id="n_oct-sort" class="n"><rect x="5974" y="1288" width="77" height="26"/><text x="6012.5" y="1306">oct-sort.h</text></g>
<g id="n_cstdio" class="g"><rect x="277" y="1363" width="58" height="26"/><text x="306" y="1381">cstdio</text></g>
<g id="n_iostream" class="g"><rect x="1433" y="1363" width="72" height="26"/><text x="1469" y="1381">iostream</text></g>
<g id="n_lo-cutils" class="n"><rect x="1682" y="1363" width="77" height="26"/><text x="1720.5" y="1381">lo-cutils.h</text></g>
<g id="n_quit" class="r"><rect x="1887" y="1363" width="54" height="26"/><text x="1914" y="1381">quit.h</text></g>
<g id="n_algorithm" class="g"><rect x="2875" y="1363" width="75" height="26"/><text x="2912.5" y="1381">algorithm</text></g>
<g id="n_dim-vector" class="r"><rect x="3025" y="1363" width="94" height="26"/><text x="3072" y="1381">dim-vector.h</text></g>
<g id="n_oct-cmplx" class="r"><rect x="3569" y="1363" width="90" height="26"/><text x="3614" y="1381">oct-cmplx.h</text></g>
<g id="n_oct-inttypes" class="r"><rect x="5857" y="1363" width="101" height="26"/><text x="5907.5" y="1381">oct-inttypes.h</text></g>
<g id="n_memory" class="g"><rect x="5982" y="1363" width="69" height="26"/><text x="6016.5" y="1381">memory</text></g>
<g id="n_sys-types" class="g"><rect x="561" y="1437" width="92" height="26"/><text x="607" y="1455">sys/types.h</text></g>
<g id="n_string" class="g"><rect x="1242" y="1437" width="54" height="26"/><text x="1269" y="1455">string</text></g>
<g id="n_cassert" class="g"><rect x="2955" y="1437" width="65" height="26"/><text x="2987.5" y="1455">cassert</text></g>
<g id="n_lo-math" class="n"><rect x="3051" y="1437" width="75" height="26"/><text x="3088.5" y="1455">lo-math.h</text></g>
<g id="n_oct-refcount" class="n"><rect x="3157" y="1437" width="103" height="26"/><text x="3208.5" y="1455">oct-refcount.h</text></g>
<g id="n_iosfwd" class="g"><rect x="5589" y="1437" width="60" height="26"/><text x="5619" y="1455">iosfwd</text></g>
<g id="n_lo-traits" class="n"><rect x="5869" y="1437" width="76" height="26"/><text x="5907" y="1455">lo-traits.h</text></g>
<g id="n_limits" class="g"><rect x="6112" y="1437" width="54" height="26"/><text x="6139" y="1455">limits</text></g>
<g id="n_cstdlib" class="g"><rect x="6261" y="1437" width="60" height="26"/><text x="6291" y="1455">cstdlib</text></g>
<g id="n_math" class="g"><rect x="3057" y="1512" width="62" height="26"/><text x="3088" y="1530">math.h</text></g>
</g>
</svg>
